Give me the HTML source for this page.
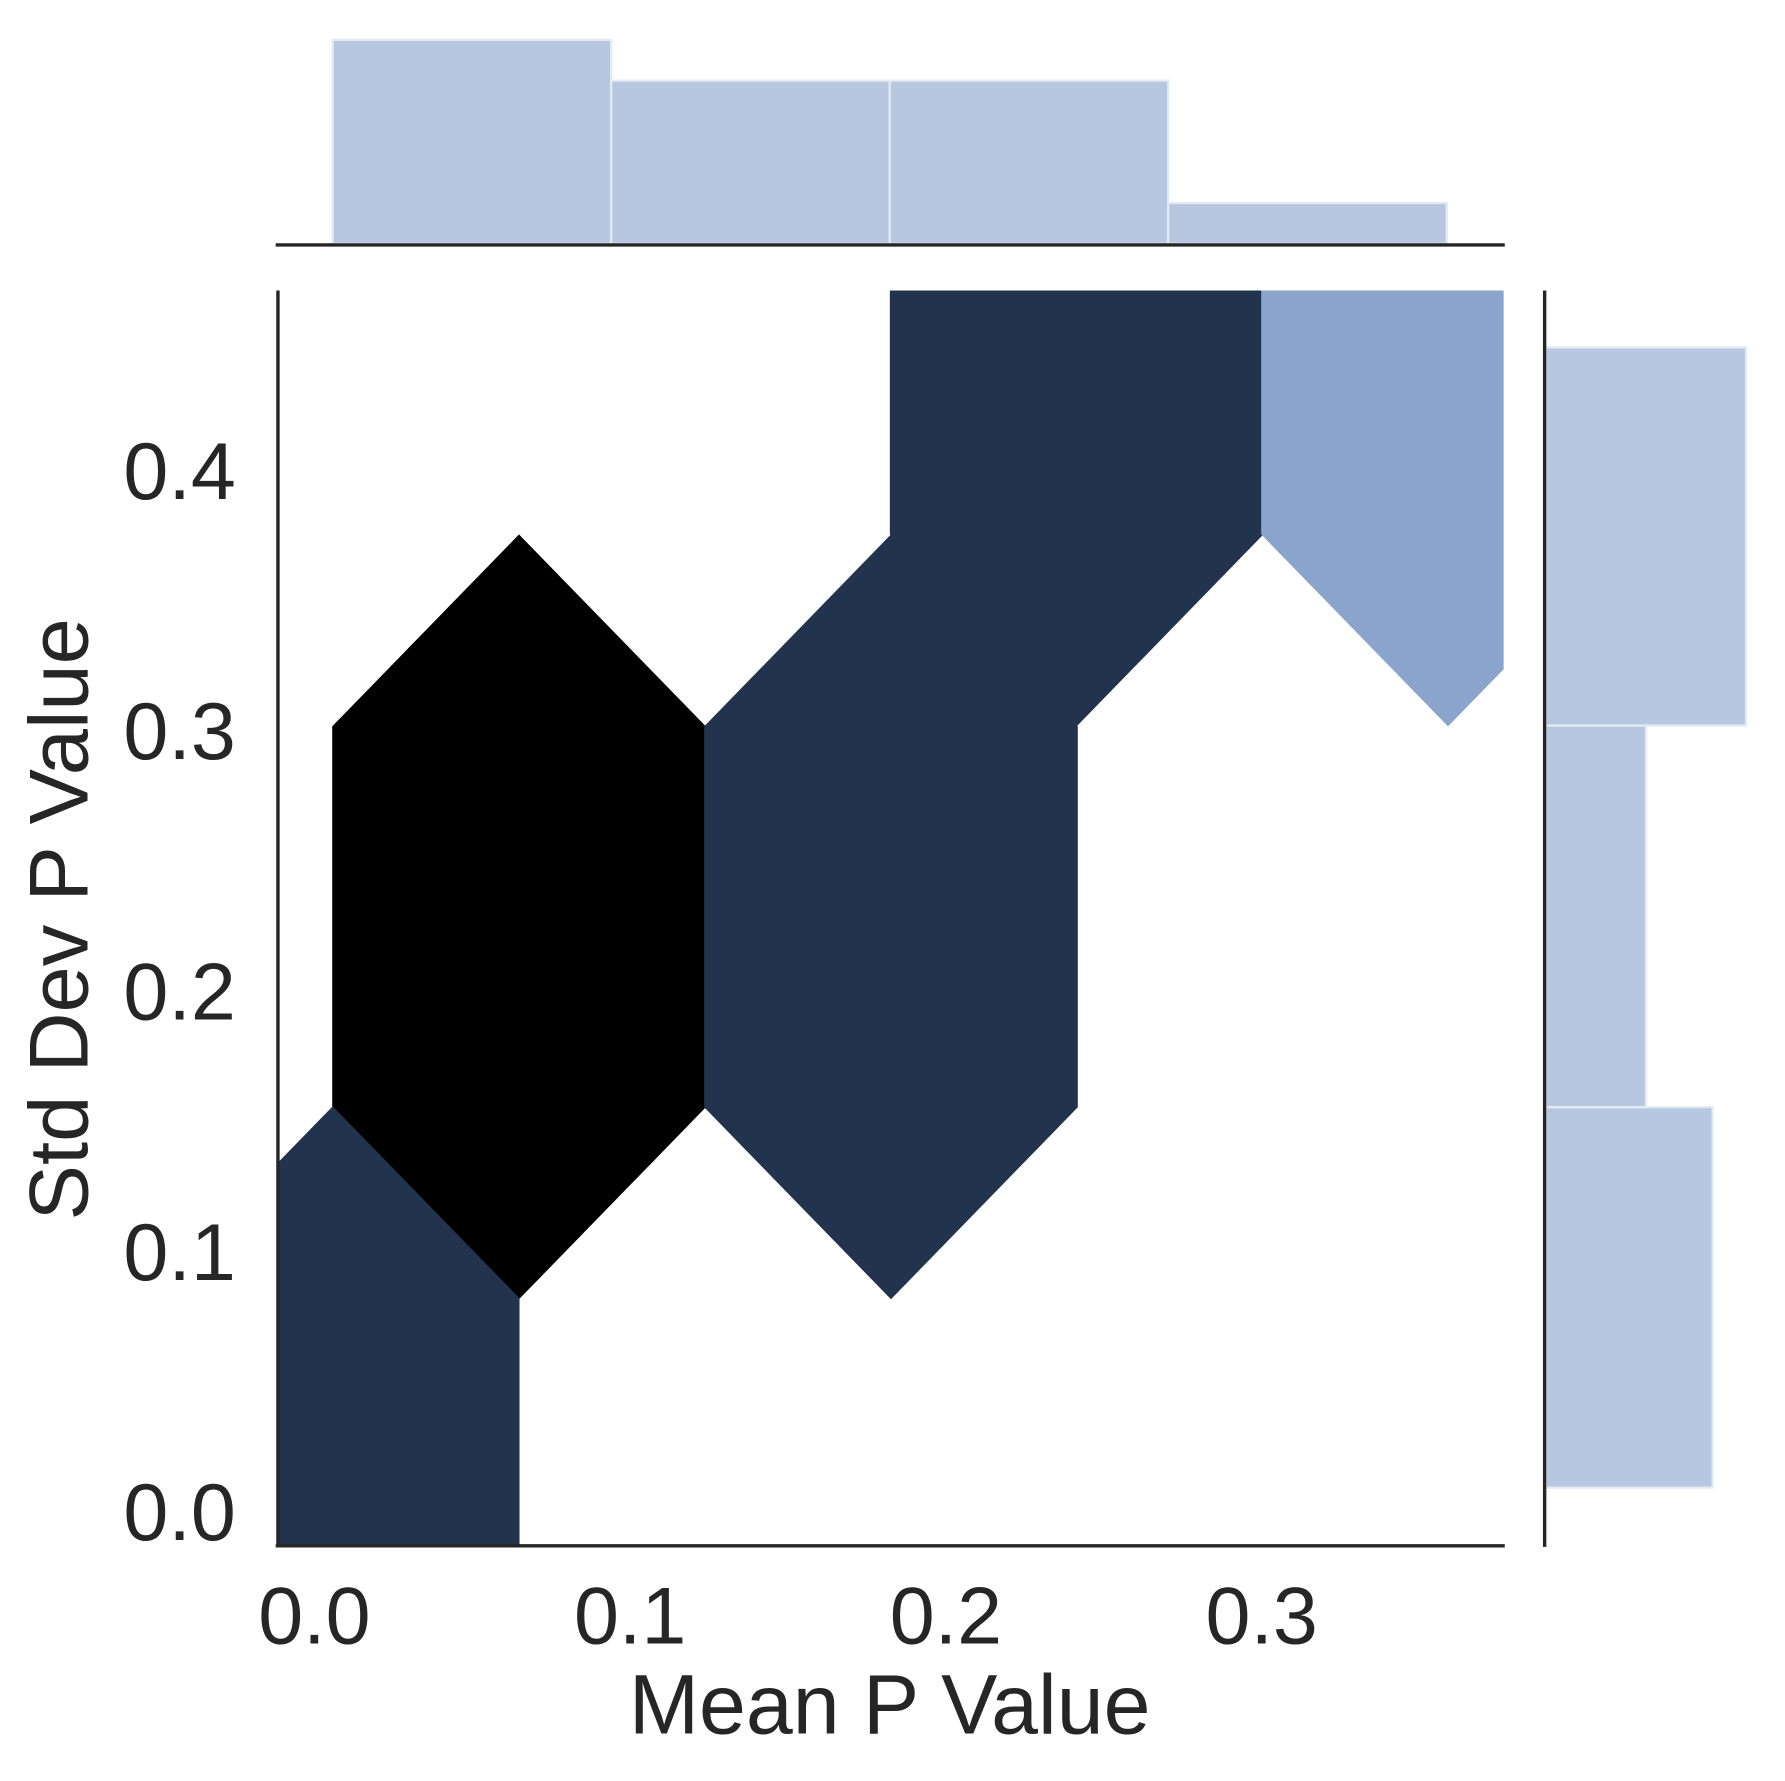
<!DOCTYPE html>
<html><head><meta charset="utf-8"><style>
html,body{margin:0;padding:0;background:#fff;overflow:hidden;width:1785px;height:1781px}
svg{display:block}
text{font-family:"Liberation Sans",sans-serif;fill:#262626}
</style></head><body>
<svg id="chart" width="1785" height="1781" viewBox="0 0 1567 1563.5" xmlns="http://www.w3.org/2000/svg">
<defs><clipPath id="clip"><rect x="243" y="255" width="1077" height="1102"/></clipPath></defs>
<g id="hexes" clip-path="url(#clip)"></g>
<g id="tophist"></g>
<g id="righthist"></g>
<line x1="244" y1="255" x2="244" y2="1358" stroke="#262626" stroke-width="3"/>
<line x1="242" y1="1357" x2="1321" y2="1357" stroke="#262626" stroke-width="3"/>
<line x1="242" y1="215" x2="1321" y2="215" stroke="#262626" stroke-width="3"/>
<line x1="1356" y1="255" x2="1356" y2="1358" stroke="#262626" stroke-width="3"/>
<g id="ticks"></g>
<text x="781" y="1522" font-size="74" text-anchor="middle">Mean P Value</text>
<text x="0" y="0" font-size="73" text-anchor="middle" transform="translate(77,807) rotate(-90)">Std Dev P Value</text>
</svg>
<script>
const hexX = [0.0648, 0.0058, 0.1826, 0.2414, 0.3590];
const hexY = [0.2285, 0.0088, 0.2285, 0.4486, 0.4486];
const hexCount = [4, 3, 3, 3, 1];
const topEdges = [0.0058, 0.0940, 0.1822, 0.2704, 0.3586];
const topCounts = [5, 4, 4, 1];
const rightEdges = [0.0092, 0.1554, 0.3020, 0.4473];
const rightCounts = [5, 3, 6];
const xTicks = [0.0, 0.1, 0.2, 0.3];
const yTicks = [0.0, 0.1, 0.2, 0.3, 0.4];

const NS = "http://www.w3.org/2000/svg";
const sx = v => 276 + v * 2772;
const sy = v => 1327 - v * 2285;
const colorFor = c => c >= 4 ? "#000000" : (c >= 2 ? "#22334d" : "#8aa4cb");

const hexG = document.getElementById("hexes");
hexX.forEach((hx, i) => {
  const cx = sx(hx), cy = sy(hexY[i]);
  const w = 163.5, h1 = 335, h2 = 167;
  const pts = [[cx, cy - h1], [cx + w, cy - h2], [cx + w, cy + h2], [cx, cy + h1], [cx - w, cy + h2], [cx - w, cy - h2]];
  const p = document.createElementNS(NS, "polygon");
  p.setAttribute("points", pts.map(q => q.join(",")).join(" "));
  p.setAttribute("fill", colorFor(hexCount[i]));
  p.setAttribute("stroke", colorFor(hexCount[i]));
  p.setAttribute("stroke-width", "1");
  
  
  hexG.appendChild(p);
});

const topG = document.getElementById("tophist");
const perCountTop = 35.8;
topCounts.forEach((c, i) => {
  const x0 = sx(topEdges[i]), x1 = sx(topEdges[i + 1]);
  const r = document.createElementNS(NS, "rect");
  r.setAttribute("x", x0); r.setAttribute("width", x1 - x0);
  r.setAttribute("y", 214 - c * perCountTop); r.setAttribute("height", c * perCountTop);
  r.setAttribute("fill", "#b7c7df"); r.setAttribute("stroke", "#e4eaf3"); r.setAttribute("stroke-width", "2");
  
  
  topG.appendChild(r);
});

const rightG = document.getElementById("righthist");
const perCountRight = 29.3;
rightCounts.forEach((c, i) => {
  const y0 = sy(rightEdges[i + 1]), y1 = sy(rightEdges[i]);
  const r = document.createElementNS(NS, "rect");
  r.setAttribute("x", 1357); r.setAttribute("width", c * perCountRight);
  r.setAttribute("y", y0); r.setAttribute("height", y1 - y0);
  r.setAttribute("fill", "#b7c7df"); r.setAttribute("stroke", "#e4eaf3"); r.setAttribute("stroke-width", "2");
  
  
  rightG.appendChild(r);
});

const tickG = document.getElementById("ticks");
xTicks.forEach(v => {
  const t = document.createElementNS(NS, "text");
  t.setAttribute("x", sx(v)); t.setAttribute("y", 1443);
  t.setAttribute("font-size", "71"); t.setAttribute("text-anchor", "middle");
  t.textContent = v.toFixed(1);
  
  
  tickG.appendChild(t);
});
yTicks.forEach(v => {
  const t = document.createElementNS(NS, "text");
  t.setAttribute("x", 207); t.setAttribute("y", sy(v) + 25);
  t.setAttribute("font-size", "71"); t.setAttribute("text-anchor", "end");
  t.textContent = v.toFixed(1);
  
  
  tickG.appendChild(t);
});
</script>
</body></html>
